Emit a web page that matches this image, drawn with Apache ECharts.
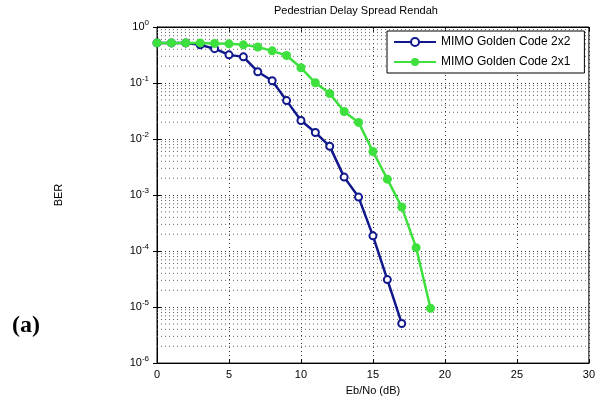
<!DOCTYPE html>
<html><head><meta charset="utf-8">
<script src="https://cdn.jsdelivr.net/npm/echarts@6/dist/echarts.min.js"></script>
<style>html,body{margin:0;padding:0;background:#fff}#c{width:598px;height:401px}</style>
</head><body><div id="c"></div>
<script>
const ebno = [0,1,2,3,4,5,6,7,8,9,10,11,12,13,14,15,16,17,18,19];
const berGolden2x2 = [0.52,0.52,0.52,0.48,0.41,0.318,0.293,0.159,0.110,0.0485,0.0214,0.0131,0.0074,0.00209,0.00092,0.000187,0.000031,0.0000051];
const berGolden2x1 = [0.52,0.52,0.52,0.52,0.51,0.50,0.48,0.44,0.375,0.31,0.187,0.101,0.0647,0.031,0.0198,0.0060,0.00192,0.00061,0.000115,0.0000095];
const seriesNames = ['MIMO Golden Code 2x2','MIMO Golden Code 2x1'];
const titleText = 'Pedestrian Delay Spread Rendah';
const xTicks = [0,5,10,15,20,25,30];
const yDecades = [-6,-5,-4,-3,-2,-1,0];
const minorMultipliers = [2,3,4,5,6,7,8,9];

const minorValues = [];
yDecades.slice(0,-1).forEach(d => minorMultipliers.forEach(m => minorValues.push(m*Math.pow(10,d))));

const xMin = xTicks[0], xMax = xTicks[xTicks.length-1];
const minorSeries = minorValues.map(v => ({
  type:'line', data:[[xMin, v],[xMax, v]], symbol:'none', silent:true, z:1,
  lineStyle:{type:[1,3], color:'#666', width:1}, tooltip:{show:false}
}));

const chart = echarts.init(document.getElementById('c'));
const font = 'Arial, "Liberation Sans", sans-serif';
chart.setOption({
  animation:false,
  backgroundColor:'#fff',
  graphic:[
    {type:'text', left:274, top:5, style:{text:titleText, font:'11px '+font, fill:'#000'}},
    {type:'text', left:12, top:314, style:{text:'(a)', font:'bold 24px "Liberation Serif", "Times New Roman", serif', fill:'#000'}}
  ],
  grid:{left:157, right:9, top:27, bottom:36, show:true, borderColor:'#000', borderWidth:1, backgroundColor:'#fff'},
  legend:{
    left:387, top:31, orient:'vertical', itemWidth:42, itemHeight:10, itemGap:8,
    borderColor:'#000', borderWidth:1, backgroundColor:'#fff', padding:[5,14,5,6],
    textStyle:{fontFamily:font, fontSize:12, color:'#000'},
    data:seriesNames
  },
  xAxis:[{
    type:'value', min:xMin, max:xMax, interval:5,
    name:'Eb/No (dB)', nameLocation:'middle', nameGap:20,
    nameTextStyle:{fontFamily:font, fontSize:11, color:'#000'},
    axisLine:{show:true, lineStyle:{color:'#000'}},
    axisTick:{inside:true, length:4, lineStyle:{color:'#000'}},
    axisLabel:{fontFamily:font, fontSize:11, color:'#000', margin:6},
    splitLine:{show:true, lineStyle:{type:[1,3], color:'#333', width:1}}
  },{
    type:'value', min:xMin, max:xMax, interval:5, position:'top',
    axisLine:{show:true, lineStyle:{color:'#000'}},
    axisTick:{inside:true, length:4, lineStyle:{color:'#000'}},
    axisLabel:{show:false}, splitLine:{show:false}
  }],
  yAxis:[{
    type:'log', logBase:10, min:1e-6, max:1,
    name:'BER', nameLocation:'middle', nameGap:93,
    nameTextStyle:{fontFamily:font, fontSize:11, color:'#000'},
    axisLine:{show:true, lineStyle:{color:'#000'}},
    axisTick:{inside:true, length:4, lineStyle:{color:'#000'}},
    axisLabel:{
      margin:8, color:'#000',
      formatter: v => { const e = Math.round(Math.log10(v)); return '{b|10}{s|' + e + '}'; },
      rich:{b:{fontFamily:font, fontSize:11, color:'#000'}, s:{fontFamily:font, fontSize:8, color:'#000', verticalAlign:'top', padding:[0,0,8,0]}}
    },
    splitLine:{show:true, lineStyle:{type:[1,3], color:'#333', width:1}}
  },{
    type:'log', logBase:10, min:1e-6, max:1, position:'right',
    axisLine:{show:true, lineStyle:{color:'#000'}},
    axisTick:{inside:true, length:4, lineStyle:{color:'#000'}},
    axisLabel:{show:false}, splitLine:{show:false}
  }],
  series: minorSeries.concat([
    {
      name:seriesNames[0], type:'line', z:3,
      data: berGolden2x2.map((v,i)=>[ebno[i], v]),
      symbol:'emptyCircle', symbolSize:7,
      lineStyle:{color:'#10188c', width:2.5},
      itemStyle:{color:'#10188c', borderWidth:1.5}
    },
    {
      name:seriesNames[1], type:'line', z:4,
      data: berGolden2x1.map((v,i)=>[ebno[i], v]),
      symbol:'circle', symbolSize:9,
      lineStyle:{color:'#3ee03e', width:2.5},
      itemStyle:{color:'#3ee03e'}
    }
  ])
});
</script></body></html>
